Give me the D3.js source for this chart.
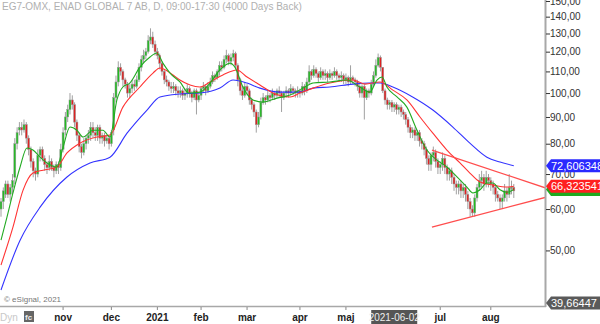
<!DOCTYPE html>
<html>
<head>
<meta charset="utf-8">
<script src="https://cdnjs.cloudflare.com/ajax/libs/d3/7.8.5/d3.min.js"></script>
<style>
  body { margin:0; background:#fff; }
  svg { font-family: "Liberation Sans", Arial, sans-serif; }
</style>
</head>
<body>
<svg width="600" height="324"></svg>
<script>
// daily candles, oldest first (index = trading day)
const opens = [
  60,62,64,67,64,66,69,80,85,86, 85,87,82,78,74,71,70,76,78,75,
  73,72,74,72,71,73,72,78,85,90, 93,97,95,88,83,79,77,80,82,83,
  86,84,83,86,82,83,81,82,80,85, 98,105,112,110,106,104,100,102,104,103,
  106,112,116,118,120,126,128,124,120,118, 114,110,106,105,103,102,103,101,100,101,
  99,100,102,100,98,101,97,99,102,103, 101,103,105,108,107,110,113,112,116,118,
  115,117,119,113,106,101,99,103,101,97, 95,92,87,90,96,98,97,99,98,100,
  99,101,100,98,100,101,100,102,101,100, 101,100,103,101,105,110,108,111,109,107,
  110,108,109,107,109,108,110,108,107,108, 106,107,105,107,106,105,103,100,103,98,
  101,100,104,108,113,117,112,101,97,95, 96,94,95,93,94,92,91,89,86,84,
  85,83,84,81,80,78,75,73,76,77, 74,72,73,75,72,70,71,69,67,66,
  67,65,66,64,62,60,59,63,66,68, 69,67,69,68,67,66,64,63,62,63,
  65,64,66,66
];
const highs = [
  63,66,68,68,67,70,82,86,88,88, 89,88,83,79,75,72,78,79,79,76,
  74,76,75,73,74,74,80,86,92,95, 100,99,96,89,84,80,82,83,85,88,
  88,86,87,87,84,84,83,83,85,100, 108,115,114,111,107,105,104,106,106,108,
  114,118,121,122,129,133,131,126,122,119, 115,111,108,106,105,105,104,103,103,102,
  102,104,103,101,102,102,100,103,105,104, 105,107,110,109,111,115,115,118,121,119,
  119,121,120,114,107,103,105,104,102,98, 96,93,92,98,100,99,101,100,102,101,
  102,103,101,101,103,102,104,103,102,103, 102,105,104,107,113,111,113,112,110,112,
  111,111,110,111,110,112,111,109,110,109, 109,108,113,108,107,106,104,104,104,102,
  102,106,110,116,119,118,112,102,98,97, 97,96,96,95,95,93,92,90,87,86,
  86,85,85,82,81,79,76,77,79,78, 75,74,77,76,73,72,72,70,68,68,
  68,67,67,65,63,61,64,67,70,71, 70,71,70,69,68,67,65,64,64,67,
  66,70,68,67
];
const lows = [
  58,60,63,63,62,64,67,78,83,83, 84,80,76,72,69,68,69,74,74,71,
  70,71,71,69,70,70,71,77,83,88, 91,93,86,81,77,75,76,78,80,81,
  82,81,81,80,80,79,80,78,79,83, 96,103,108,103,102,98,98,100,101,102,
  105,110,114,116,119,124,122,118,116,111, 108,104,103,101,100,100,99,98,98,97,
  97,98,98,96,97,91,96,97,100,99, 100,102,104,105,106,108,110,111,114,113,
  113,115,111,103,99,97,98,99,95,93, 90,84,86,89,95,95,96,96,97,97,
  98,98,92,97,98,98,99,99,98,98, 98,99,99,100,104,106,107,107,105,106,
  106,106,105,106,106,107,106,105,105,104, 104,103,104,104,103,101,98,98,89,97,
  98,99,103,107,112,110,100,95,93,93, 92,92,91,91,90,89,87,84,82,82,
  81,81,79,78,76,73,71,71,74,72, 70,70,71,70,68,68,67,65,64,64,
  63,63,62,60,58,58,58,62,65,66, 65,66,66,65,64,62,62,60,60,62,
  62,63,64,63
];
const closes = [
  62,65,67,64,66,68,80,84,86,85, 87,82,78,74,71,70,76,78,75,73,
  72,74,72,71,73,72,78,84,90,93, 97,95,88,83,79,77,80,82,83,86,
  84,83,86,82,83,81,82,80,84,98, 105,112,110,106,104,100,102,104,103,106,
  112,116,118,120,126,128,124,120,118,114, 110,106,105,103,102,103,101,100,101,99,
  100,102,100,98,101,97,99,102,103,101, 103,105,108,107,110,113,112,116,118,115,
  117,119,113,106,101,99,103,101,97,95, 92,87,90,96,98,97,99,98,100,99,
  101,100,98,100,101,100,102,101,100,101, 100,103,101,105,110,108,111,109,107,110,
  108,109,107,109,108,110,108,107,108,106, 107,105,107,106,105,103,100,103,98,101,
  100,104,108,113,117,112,101,97,95,96, 94,95,93,94,92,91,89,86,84,85,
  83,84,81,80,78,75,73,76,77,74, 72,73,75,72,70,71,69,67,66,67,
  65,66,64,62,60,59,63,66,68,69, 67,69,68,67,66,64,63,62,63,65,
  64,66,66,65
];

// moving averages: [day index, value]
const maShort = [
  [0,52.3],[2.6,57.9],[5.2,64.4],[8.3,72.2],[11.3,78.5],[13.9,77.8],[17,75.4],[20,73.5],
  [24.3,72.2],[27,78.8],[30,86.1],[33,84.9],[35.7,82.4],[40,84.9],[44.3,84.9],[47.4,82.4],
  [50.4,97],[53,102.7],[56,104.5],[60.4,112.1],[64.8,117.2],[67.8,119.3],[70.4,114.1],
  [73.5,109.2],[77.8,105],[81.7,100],[86.5,100.4],[90.9,104.5],[95.2,110.7],[99.6,114.1],
  [101.7,112.1],[105.2,102.7],[109.6,97],[113.9,96.1],[120,97.8],[125.7,99.1],[131.3,102.2],
  [135.7,104.5],[143,105],[150.4,105.9],[156,102.7],[160.4,100.4],[163.5,105.9],[165.7,107.3],
  [167.8,102.7],[172.2,98.3],[176.5,94],[180.9,84.9],[185.2,77.8],[189.6,74.4],[193.9,72.2],
  [198.3,69.1],[202.6,66.1],[205.2,64.4],[208.3,65.3],[211.3,67.3],[213.9,67.3],[217,65.3],
  [220,64.6],[223,65.4]
];
const maMid = [
  [0,46.9],[5.2,55.4],[9.6,65.2],[13.9,70.3],[18.3,71.2],[24.3,72.2],[28.7,76.8],[34.3,80.2],
  [41.7,82.4],[47.4,83.1],[53,94],[60.4,102.7],[66.1,109.2],[69.1,111.7],[74.8,108.3],
  [77.8,105.9],[82.2,103.6],[86.5,102.7],[90.9,105],[96.5,108.3],[102.6,110.7],[107,107.3],
  [112.6,103.6],[118.3,100],[125.7,98.3],[130,100],[135.7,102.2],[143,104.5],[153,105.9],
  [158.3,104],[164.8,105],[170.4,101.3],[176.5,97],[182.2,90],[187.8,83.8],[193.9,77.8],
  [199.6,73.5],[203.9,70.3],[208.3,67.6],[213.9,66.7],[220,66.1],[223,66.32]
];
const maLong = [
  [0,42],[8.3,52.3],[17,60.5],[28.7,69.1],[38.7,73.5],[47.4,75.4],[54.8,83.8],[63.5,92.8],
  [69.1,98.3],[77.8,99.6],[86.5,100],[95.2,102.2],[100.9,105.9],[107,104.5],[112.6,102.2],
  [121.3,100.4],[130,100.4],[135.7,102.2],[143,102.7],[153,104],[160,104.5],[165,104.5],
  [170.4,102.7],[179,98.3],[187.8,92.8],[196.5,86.1],[203.9,80.2],[211.3,75.4],[217,73.8],
  [223,72.61]
];
// hand drawn triangle
const trendUpper = [[187.4,77.8],[237,65.8]];
const trendLower = [[187.4,55.4],[237,63.2]];

const priceTicks = [50,60,70,80,90,100,110,120,130,140,150];
const monthTicks = [["nov",27],["dec",48],["2021",68],["feb",87],["mar",107],["apr",130],["maj",150],["jul",191],["aug",213]];
const cursorLabel = ["2021-06-02",171];
// green label sits under the red one, only its edge shows
const lastLabels = [
  {value:65.4, text:"", fill:"#1faa1f"},
  {value:66.323541, text:"66,323541", fill:"#ff2020"},
  {value:72.606348, text:"72,606348", fill:"#2a2aff"}
];
const lowLabel = 39.66447;

const svg = d3.select("svg");

let x = d3.scaleLinear().domain([0,237]).range([1,546]);
let y = d3.scaleLog().domain([lowLabel,150]).range([303,1]);

svg.append("defs").append("clipPath").attr("id","plot")
  .append("rect").attr("x",0).attr("y",0).attr("width",545).attr("height",306);

let plot = svg.append("g").attr("clip-path","url(#plot)");

// candles
let candles = plot.selectAll(".candle")
  .data(closes.map((c,i)=>({i:i,o:opens[i],h:highs[i],l:lows[i],c:c})))
  .join("g")
  .attr("class","candle");

candles.append("line")
  .attr("x1",d=>x(d.i)).attr("x2",d=>x(d.i))
  .attr("y1",d=>y(d.h)).attr("y2",d=>y(d.l))
  .style("stroke","#a0a0a0")
  .style("stroke-width",1);

candles.append("rect")
  .attr("x",d=>x(d.i)-1)
  .attr("width",2)
  .attr("y",d=>y(Math.max(d.o,d.c)))
  .attr("height",d=>Math.max(1,Math.abs(y(d.o)-y(d.c))))
  .style("fill",d=> d.c>=d.o ? "#22bb22" : "#dd2222")
  .style("stroke","#999")
  .style("stroke-width",0.5);

// moving averages
let line = d3.line().x(d=>x(d[0])).y(d=>y(d[1])).curve(d3.curveMonotoneX);

plot.append("path").datum(maLong).attr("d",line)
  .style("fill","none").style("stroke","#3333ff").style("stroke-width",1.1);
plot.append("path").datum(maMid).attr("d",line)
  .style("fill","none").style("stroke","#ff3333").style("stroke-width",1.1);
plot.append("path").datum(maShort).attr("d",line)
  .style("fill","none").style("stroke","#22aa22").style("stroke-width",1.1);

// triangle
let straight = d3.line().x(d=>x(d[0])).y(d=>y(d[1]));
[trendUpper,trendLower].forEach(t=>{
  plot.append("path").datum(t).attr("d",straight)
    .style("fill","none").style("stroke","#ff4d4d").style("stroke-width",1.3);
});

// title
svg.append("text").attr("x",2).attr("y",10)
  .text("EG7-OMX, ENAD GLOBAL 7 AB, D, 09:00-17:30 (4000 Days Back)")
  .style("font-size","10px").style("fill","#b0b0b0");

svg.append("text").attr("x",4).attr("y",302)
  .text("\u00a9 eSignal, 2021")
  .style("font-size","8px").style("fill","#777");

// frame
svg.append("line").attr("x1",0).attr("x2",546).attr("y1",306.5).attr("y2",306.5)
  .style("stroke","#a8a8a8").style("stroke-width",1.5);
svg.append("line").attr("x1",545.5).attr("x2",545.5).attr("y1",0).attr("y2",307)
  .style("stroke","#a8a8a8").style("stroke-width",2);

// price axis
let yAxis = d3.axisRight(y)
  .tickValues(priceTicks)
  .tickSize(4)
  .tickFormat(d=>d3.format(".2f")(d).replace(".",","));

let ya = svg.append("g").attr("transform","translate(546,0)").call(yAxis);
ya.select(".domain").remove();
ya.selectAll(".tick line").style("stroke","#333");
ya.selectAll(".tick text").attr("x",4)
  .style("font-size","10px").style("fill","#333")
  .style("font-family","'Liberation Sans', Arial, sans-serif");

// last value labels
function valueLabel(v,txt,fill){
  let g = svg.append("g").attr("transform",`translate(546,${y(v)})`);
  g.append("path").attr("d","M0,0 L5,-6.5 L60,-6.5 L60,6.5 L5,6.5 Z").style("fill",fill);
  if (txt) {
    g.append("text").attr("x",5).attr("y",4).text(txt)
      .style("font-size","11px").style("fill","#fff");
  }
}
lastLabels.forEach(l=>valueLabel(l.value,l.text,l.fill));
valueLabel(lowLabel,"39,66447","#5a5a5a");

// time axis
let xa = svg.append("g");
xa.selectAll(".mtick").data(monthTicks).join("line")
  .attr("x1",d=>x(d[1])).attr("x2",d=>x(d[1]))
  .attr("y1",307).attr("y2",310)
  .style("stroke","#888");
xa.selectAll(".mlabel").data(monthTicks).join("text")
  .attr("x",d=>x(d[1])).attr("y",321)
  .attr("text-anchor","middle")
  .text(d=>d[0])
  .style("font-size","10px").style("font-weight","bold").style("fill","#222");

// crosshair date
xa.append("rect").attr("x",x(cursorLabel[1])-23).attr("y",310).attr("width",46).attr("height",14)
  .style("fill","#555");
xa.append("text").attr("x",x(cursorLabel[1])).attr("y",321).attr("text-anchor","middle")
  .text(cursorLabel[0]).style("font-size","10px").style("fill","#eee");

// bottom-left controls
svg.append("text").attr("x",0).attr("y",321).text("Dyn")
  .style("font-size","10px").style("fill","#c8c8c8");
svg.append("rect").attr("x",24).attr("y",311).attr("width",10).attr("height",11).style("fill","#666");
svg.append("text").attr("x",25).attr("y",320).text("fc")
  .style("font-size","8px").style("fill","#eee").style("font-weight","bold");
</script>
</body>
</html>
